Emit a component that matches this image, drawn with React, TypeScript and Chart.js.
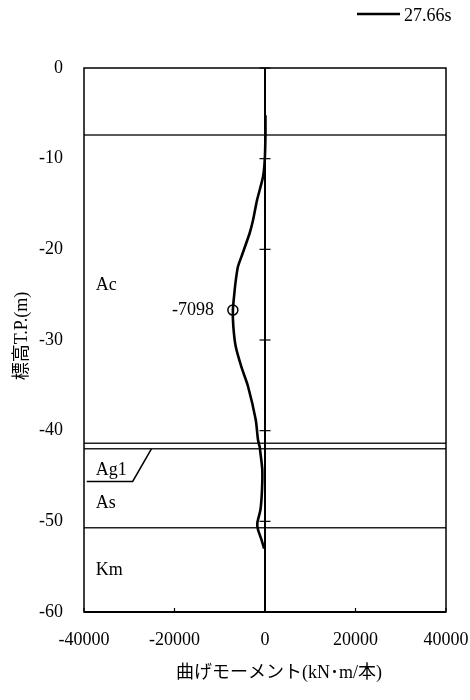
import React, { useEffect, useRef } from 'react';
import { Chart, registerables } from 'chart.js';

Chart.register(...registerables);

// ---- data ----
const seriesLabel = '27.66s';
const depths = [-5.2, -7.4, -10.1, -12.0, -14.6, -16.8, -18.2, -20.8, -21.9, -23.4, -24.5, -26.7, -28.5, -30.7, -33.0, -35.1, -38.8, -41.0, -41.8, -42.1, -44.3, -46.5, -48.7, -50.2, -50.9, -52.0, -53.0];
const moments = [100, 100, -50, -440, -1770, -2650, -3380, -5200, -5970, -6450, -6700, -7098, -7000, -6480, -5200, -3760, -2050, -1550, -1170, -1100, -600, -660, -1000, -1700, -1550, -800, -200];

const markerDepth = -26.7;
const markerMoment = -7098;
const markerLabel = '-7098';

const xTickMin = -40000;
const xTickMax = 40000;
const xTickStep = 20000;
const yTickMin = -60;
const yTickMax = 0;
const yTickStep = 10;

const layerBoundaries = [-7.4, -41.4, -42.0, -50.7];
const layerNames = ['Ac', 'Ag1', 'As', 'Km'];
const layerLabelDepths = [-24.0, -44.4, -48.0, -55.4];
const layerLabelMoment = -37400;
const leaderMoments = [-25100, -29240, -39400];
const leaderDepths = [-42.0, -45.6, -45.6];

const xTitle = '曲げモーメント(kN･m/本)';
const yTitle = '標高T.P.(m)';

const FONT_FAMILY = "'Liberation Serif', 'Noto Sans CJK JP', serif";

const decor = {
  id: 'decor',
  beforeDatasetsDraw(chart: any) {
    const { ctx, chartArea: a, scales } = chart;
    const x = scales.x;
    const y = scales.y;
    const seg = (x1: number, y1: number, x2: number, y2: number) => {
      ctx.beginPath();
      ctx.moveTo(x1, y1);
      ctx.lineTo(x2, y2);
      ctx.stroke();
    };
    ctx.save();
    // layer boundaries
    ctx.strokeStyle = '#222';
    ctx.lineWidth = 1.5;
    layerBoundaries.forEach((d) => {
      const py = y.getPixelForValue(d);
      seg(a.left, py, a.right, py);
    });
    // Ag1 leader
    ctx.strokeStyle = '#000';
    ctx.lineWidth = 1.5;
    ctx.beginPath();
    leaderMoments.forEach((m, i) => {
      const px = x.getPixelForValue(m);
      const py = y.getPixelForValue(leaderDepths[i]);
      if (i === 0) ctx.moveTo(px, py);
      else ctx.lineTo(px, py);
    });
    ctx.stroke();
    // frame
    ctx.strokeStyle = '#000';
    ctx.lineWidth = 1.5;
    ctx.strokeRect(a.left, a.top, a.right - a.left, a.bottom - a.top);
    ctx.lineWidth = 2;
    seg(a.left, a.bottom, a.right, a.bottom);
    // zero axis
    const x0 = x.getPixelForValue(0);
    ctx.lineWidth = 2;
    seg(x0, a.top, x0, a.bottom);
    ctx.lineWidth = 1.2;
    y.ticks.forEach((t: any) => {
      const py = y.getPixelForValue(t.value);
      seg(x0 - 5.5, py, x0 + 5.5, py);
    });
    // bottom inside ticks
    x.ticks.forEach((t: any) => {
      const px = x.getPixelForValue(t.value);
      seg(px, a.bottom, px, a.bottom - 4);
    });
    ctx.restore();
  },
  afterDraw(chart: any) {
    const { ctx, chartArea: a, scales } = chart;
    const x = scales.x;
    const y = scales.y;
    ctx.save();
    ctx.fillStyle = '#000';
    ctx.font = `18px ${FONT_FAMILY}`;
    // layer labels
    ctx.textAlign = 'left';
    ctx.textBaseline = 'middle';
    layerNames.forEach((n, i) => {
      ctx.fillText(n, x.getPixelForValue(layerLabelMoment), y.getPixelForValue(layerLabelDepths[i]));
    });
    // marker label
    ctx.textAlign = 'right';
    ctx.fillText(markerLabel, x.getPixelForValue(markerMoment) - 19, y.getPixelForValue(markerDepth));
    // legend
    const label = chart.data.datasets[0].label;
    ctx.strokeStyle = '#000';
    ctx.lineWidth = 2.5;
    ctx.beginPath();
    ctx.moveTo(357, 14);
    ctx.lineTo(400, 14);
    ctx.stroke();
    ctx.textAlign = 'left';
    ctx.fillText(label, 404, 16);
    // x title
    ctx.textAlign = 'center';
    ctx.fillText(xTitle, (a.left + a.right) / 2 + 14, 673);
    // y title
    ctx.translate(22, (a.top + a.bottom) / 2 - 4);
    ctx.rotate(-Math.PI / 2);
    ctx.textAlign = 'center';
    ctx.fillText(yTitle, 0, 0);
    ctx.restore();
  },
};

export default function App() {
  const ref = useRef<HTMLCanvasElement | null>(null);
  useEffect(() => {
    if (!ref.current) return;
    const font = { family: FONT_FAMILY, size: 18 };
    const chart = new Chart(ref.current, {
      type: 'scatter',
      data: {
        datasets: [
          {
            label: seriesLabel,
            data: depths.map((d, i) => ({ x: moments[i], y: d })),
            showLine: true,
            borderColor: '#000',
            borderWidth: 2.6,
            pointRadius: 0,
            tension: 0.25,
            fill: false,
          },
          {
            label: 'max',
            data: [{ x: markerMoment, y: markerDepth }],
            showLine: false,
            pointStyle: 'circle',
            pointRadius: 5,
            borderColor: '#000',
            borderWidth: 1.5,
            backgroundColor: 'rgba(0,0,0,0)',
          },
        ],
      },
      options: {
        animation: false,
        responsive: false,
        maintainAspectRatio: false,
        layout: { padding: { left: 0, right: 24, top: 68, bottom: 0 } },
        plugins: { legend: { display: false }, tooltip: { enabled: false } },
        scales: {
          x: {
            type: 'linear',
            position: 'bottom',
            min: xTickMin,
            max: xTickMax,
            ticks: {
              stepSize: xTickStep,
              font,
              color: '#000',
              padding: 17,
              maxRotation: 0,
              autoSkip: false,
              callback: (v: any) => String(v),
            },
            grid: { display: false, drawTicks: false },
            border: { display: false },
            afterFit: (s: any) => {
              s.height = 88;
              s.paddingLeft = 0;
              s.paddingRight = 0;
            },
          },
          y: {
            type: 'linear',
            min: yTickMin,
            max: yTickMax,
            ticks: {
              stepSize: yTickStep,
              font,
              color: '#000',
              padding: 21,
              autoSkip: false,
              callback: (v: any) => String(v),
            },
            grid: { display: false, drawTicks: false },
            border: { display: false },
            afterFit: (s: any) => {
              s.width = 84;
              s.paddingTop = 0;
              s.paddingBottom = 0;
            },
          },
        },
      },
      plugins: [decor],
    } as any);
    return () => chart.destroy();
  }, []);
  return (
    <div style={{ position: 'absolute', left: 0, top: 0, width: 470, height: 700, background: '#fff' }}>
      <canvas ref={ref} width={470} height={700} style={{ display: 'block' }} />
    </div>
  );
}
